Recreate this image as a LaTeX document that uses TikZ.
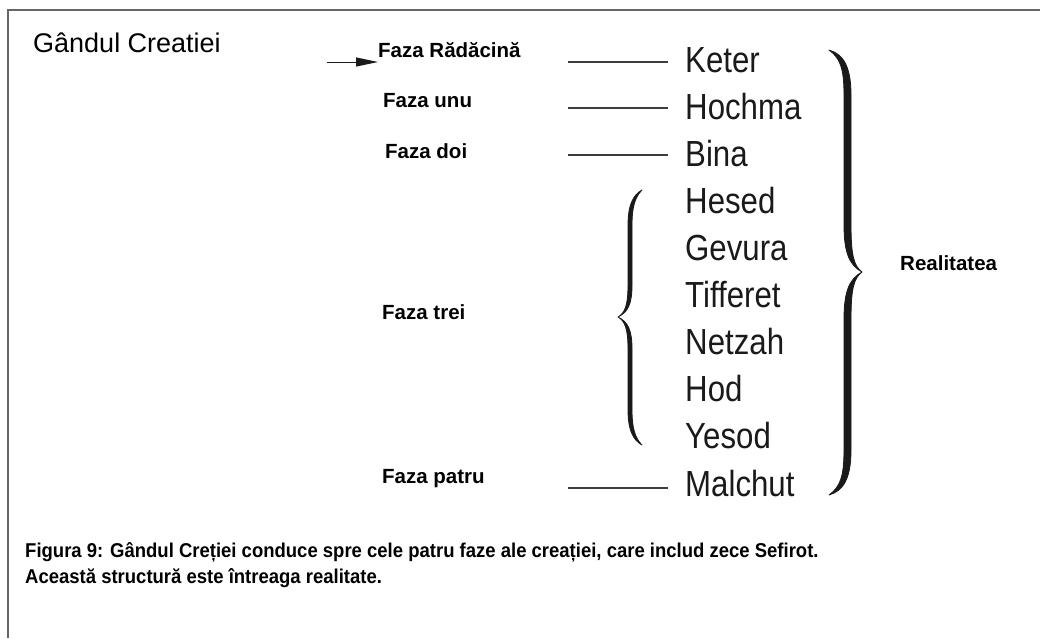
\documentclass[tikz,border=0pt]{standalone}
\usepackage{fontspec}
\setmainfont{Liberation Sans}
\newfontfamily\sefont[FakeStretch=0.86]{Liberation Sans}
\newfontfamily\capfont[FakeStretch=0.925]{Liberation Sans}
\usetikzlibrary{arrows.meta,calc}
\definecolor{framegray}{HTML}{666666}
\definecolor{inkdark}{HTML}{1A1A1A}
\tikzset{
  lbl/.style={anchor=base west,inner sep=0pt,font=\fontsize{20.5}{24}\selectfont\bfseries},
  sef/.style={anchor=base west,inner sep=0pt,font=\sefont\fontsize{36.3}{40}\selectfont,text=inkdark},
  captext/.style={anchor=base west,inner sep=0pt,font=\capfont\fontsize{20}{22}\selectfont\bfseries},
  tickline/.style={draw=inkdark!85,line width=1.4pt},
  bracefill/.style={fill=inkdark,draw=inkdark,line width=0.8pt,line join=round}
}
\begin{document}
\begin{tikzpicture}[x=1pt,y=-1pt]
\useasboundingbox (0,0) rectangle (1040,638);
\fill[white] (0,0) rectangle (1040,638);
% frame
\draw[framegray,line width=2pt] (8,638) -- (8,10) -- (1040,10);

% title
\node[anchor=base west,inner sep=0pt,font=\fontsize{27}{30}\selectfont] (title) at (33,52) {Gândul Creatiei};

% phase labels
\node[lbl] (rad) at (378,57) {Faza Rădăcină};
\node[lbl] (unu) at (383,107) {Faza unu};
\node[lbl] (doi) at (385,158) {Faza doi};
\node[lbl] (trei) at (382,319) {Faza trei};
\node[lbl] (patru) at (382,483) {Faza patru};

% arrow into Faza Radacina
\coordinate (astart) at (327,62);
\draw[inkdark,line width=1pt,-{Triangle[length=22pt,width=9pt]}] (astart) -- (astart -| rad.west);

% sefirot
\node[sef] (keter) at (685,72) {Keter};
\node[sef] (hochma) at (685,119) {Hochma};
\node[sef] (bina) at (685,166) {Bina};
\node[sef] (hesed) at (685,213) {Hesed};
\node[sef] (gevura) at (685,260) {Gevura};
\node[sef] (tifferet) at (685,307) {Tifferet};
\node[sef] (netzah) at (685,354) {Netzah};
\node[sef] (hod) at (685,401) {Hod};
\node[sef] (yesod) at (685,448) {Yesod};
\node[sef] (malchut) at (685,496) {Malchut};

% connector lines
\foreach \n/\dy in {keter/-10,hochma/-11,bina/-11,malchut/-8}{
  \draw[tickline] ($(\n.base west)+(-17,\dy)$) -- ++(-100,0);
}

% big right brace
\path[bracefill]
 (829,50) .. controls (843,54) and (851,66) .. (851,95)
 -- (851,225)
 .. controls (851,256) and (854,266) .. (862,272)
 .. controls (854,278) and (851,288) .. (851,319)
 -- (851,450)
 .. controls (851,479) and (843,491) .. (829,495)
 .. controls (840,487) and (844,477) .. (844,450)
 -- (844,319)
 .. controls (844,292) and (849,279) .. (862,272)
 .. controls (849,265) and (844,252) .. (844,225)
 -- (844,95)
 .. controls (844,68) and (840,58) .. (829,50) -- cycle;

% left brace
\path[bracefill]
 (642,190) .. controls (633,195) and (628,205) .. (628,225)
 -- (628,285)
 .. controls (628,305) and (625,313) .. (618,317)
 .. controls (625,321) and (628,329) .. (628,349)
 -- (628,410)
 .. controls (628,430) and (633,440) .. (642,445)
 .. controls (635,438) and (632,428) .. (632,410)
 -- (632,349)
 .. controls (632,330) and (628,322) .. (618,317)
 .. controls (628,312) and (632,304) .. (632,285)
 -- (632,225)
 .. controls (632,207) and (635,197) .. (642,190) -- cycle;

\node[lbl] (real) at (900,270) {Realitatea};

% caption
\node[captext] (cap1) at (25,557) {Figura 9: Gândul Creției conduce spre cele patru faze ale creației, care includ zece Sefirot.};
\node[captext] (cap2) at (25,583) {Această structură este întreaga realitate.};
\end{tikzpicture}
\end{document}
